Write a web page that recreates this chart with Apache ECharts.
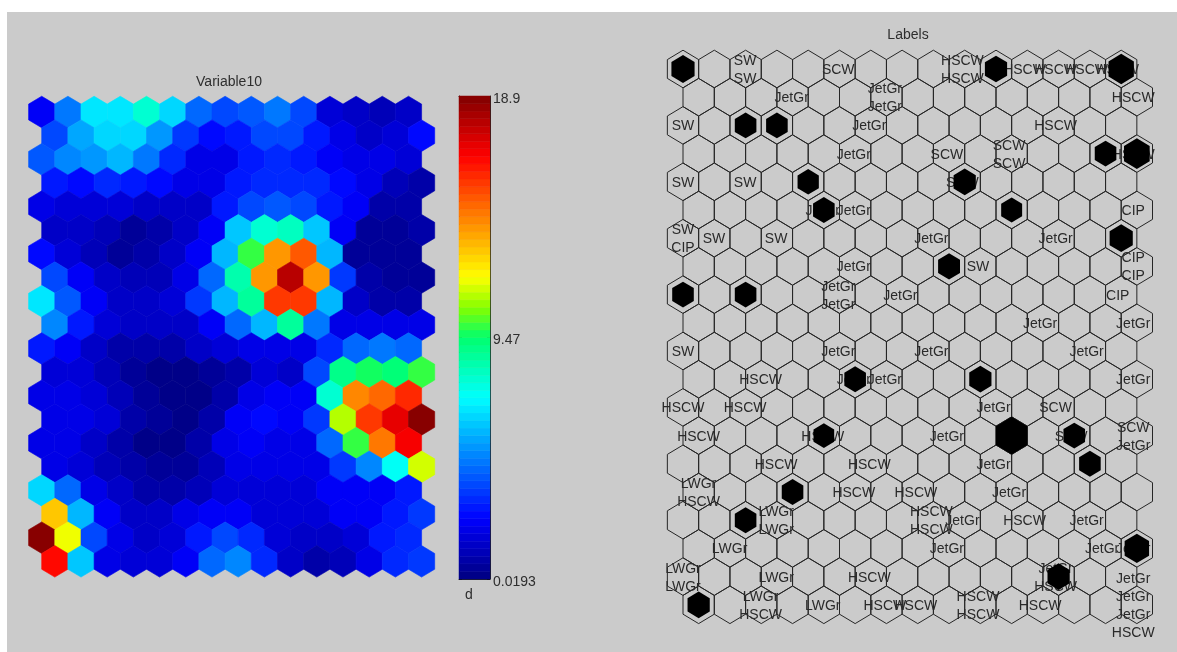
<!DOCTYPE html>
<html><head><meta charset="utf-8">
<style>html,body{margin:0;padding:0;background:#fff}#c{width:1177px;height:652px;filter:blur(.35px)}</style>
<script src="https://cdn.jsdelivr.net/npm/echarts@6/dist/echarts.min.js"></script>
</head><body><div id="c"></div>
<script>
const valueMin = 0.0193, valueMid = 9.47, valueMax = 18.9;
const gridCols = 15, gridRows = 20;
const variable10 = [
 [2.2,4.5,6.6,6.7,7.8,6.4,4.4,3.6,4.1,4.7,3.6,1.7,1.2,1.1,1.2],
 [3.8,5.4,6.4,6.4,5.2,3.4,2.6,2.8,3.7,3.7,2.7,1.8,1.4,1.5,2.4],
 [4.1,5.0,5.3,5.7,4.6,3.1,2.0,1.9,2.9,3.0,2.7,2.1,1.8,1.8,1.7],
 [2.7,2.6,3.1,2.9,2.5,2.0,1.9,2.7,3.1,3.2,3.1,2.5,2.0,1.0,0.8],
 [1.8,1.5,1.7,1.7,1.2,1.3,1.4,2.7,3.7,3.9,3.7,2.9,2.2,0.9,0.8],
 [1.4,1.3,1.1,0.6,0.8,1.2,2.3,6.0,7.9,8.0,6.1,2.1,0.6,0.6,0.7],
 [2.4,1.7,1.0,0.4,0.7,1.2,2.2,5.8,9.8,13.6,14.8,5.9,0.5,0.5,0.6],
 [3.8,2.2,1.2,1.0,1.1,2.0,4.4,8.3,13.8,17.9,13.8,3.4,0.7,0.6,0.6],
 [6.6,4.1,2.2,1.3,1.2,1.7,3.5,5.7,8.8,15.6,15.6,5.8,1.4,0.8,0.7],
 [5.0,2.9,1.6,1.3,1.2,1.4,2.2,4.2,5.7,8.8,4.7,1.9,1.9,2.0,1.8],
 [2.9,2.2,1.4,0.9,0.7,0.7,1.2,1.7,1.9,1.9,2.0,3.1,4.4,4.6,4.3],
 [1.7,1.5,1.0,0.5,0.3,0.3,0.5,0.9,1.5,1.4,3.7,9.1,9.6,9.3,9.8],
 [1.9,1.8,1.5,1.0,0.5,0.3,0.3,0.7,2.0,2.2,2.2,7.9,13.9,14.6,15.7],
 [1.9,1.9,1.5,0.7,0.4,0.3,0.7,2.1,2.6,2.2,3.3,11.2,15.4,17.0,18.9],
 [2.0,1.9,1.3,0.7,0.3,0.3,0.7,1.8,2.3,2.0,2.0,4.4,10.0,14.2,16.8],
 [1.8,1.6,1.1,0.7,0.4,0.4,1.0,1.8,1.9,1.8,2.0,3.4,5.0,7.1,11.3],
 [6.5,4.2,1.9,1.2,0.9,0.7,1.1,1.7,1.6,1.6,1.6,2.3,2.3,2.3,2.9],
 [12.8,5.9,2.1,1.4,1.4,2.0,2.3,2.1,1.6,1.5,1.7,2.2,2.3,2.9,3.3],
 [18.9,11.8,3.6,1.8,1.3,1.6,2.7,3.6,3.1,1.6,1.2,1.2,1.7,2.7,3.1],
 [16.5,6.2,2.0,1.6,1.5,2.2,4.2,5.0,3.1,1.4,0.9,1.0,1.9,3.2,3.4]
];
// row, col, stacked labels
const cellLabels = [
 [0,2,['SW','SW']],[0,5,['SCW']],[0,9,['HSCW','HSCW']],[0,11,['HSCW']],[0,12,['HSCW']],[0,13,['HSCW']],[0,14,['HSCW']],
 [1,3,['JetGr']],[1,6,['JetGr','JetGr']],[1,14,['HSCW']],
 [2,0,['SW']],[2,6,['JetGr']],[2,12,['HSCW']],
 [3,5,['JetGr']],[3,8,['SCW']],[3,10,['SCW','SCW']],[3,14,['HSCW']],
 [4,0,['SW']],[4,2,['SW']],[4,9,['SCW']],
 [5,4,['JetGr']],[5,5,['JetGr']],[5,14,['CIP']],
 [6,0,['SW','CIP']],[6,1,['SW']],[6,3,['SW']],[6,8,['JetGr']],[6,12,['JetGr']],
 [7,5,['JetGr']],[7,9,['SW']],[7,14,['CIP','CIP']],
 [8,5,['JetGr','JetGr']],[8,7,['JetGr']],[8,14,['CIP']],
 [9,11,['JetGr']],[9,14,['JetGr']],
 [10,0,['SW']],[10,5,['JetGr']],[10,8,['JetGr']],[10,13,['JetGr']],
 [11,2,['HSCW']],[11,5,['JetGr']],[11,6,['JetGr']],[11,14,['JetGr']],
 [12,0,['HSCW']],[12,2,['HSCW']],[12,10,['JetGr']],[12,12,['SCW']],
 [13,0,['HSCW']],[13,4,['HSCW']],[13,8,['JetGr']],[13,12,['SCW']],[13,14,['SCW','JetGr']],
 [14,3,['HSCW']],[14,6,['HSCW']],[14,10,['JetGr']],
 [15,0,['LWGr','HSCW']],[15,5,['HSCW']],[15,7,['HSCW']],[15,10,['JetGr']],
 [16,3,['LWGr','LWGr']],[16,8,['HSCW','HSCW']],[16,9,['JetGr']],[16,11,['HSCW']],[16,13,['JetGr']],
 [17,1,['LWGr']],[17,8,['JetGr']],[17,13,['JetGr']],[17,14,['JetGr']],
 [18,0,['LWGr','LWGr']],[18,3,['LWGr']],[18,6,['HSCW']],[18,12,['JetGr','HSCW']],
 [19,2,['LWGr','HSCW']],[19,4,['LWGr']],[19,6,['HSCW']],[19,7,['HSCW']],[19,9,['HSCW','HSCW']],[19,11,['HSCW']],[19,14,['JetGr','JetGr','JetGr','HSCW']]
];
// row, col, relative marker size
const hitMarkers = [
 [0,0,.74],[0,10,.71],[0,14,.81],[2,2,.69],[2,3,.69],[3,13,.69],[3,14,.82],[4,4,.68],[4,9,.71],
 [5,4,.69],[5,10,.67],[6,14,.74],[7,8,.70],[8,0,.69],[8,2,.69],[11,5,.69],[11,9,.71],
 [13,4,.66],[13,10,1],[13,12,.69],[14,13,.69],[15,3,.69],[16,2,.69],[17,14,.78],[18,12,.71],[19,0,.71]
];
const colorStops = [[0,0,0,128],[.125,0,0,255],[.375,0,255,255],[.5,0,255,110],[.56,130,255,0],[.625,255,255,0],[.875,255,0,0],[1,128,0,0]];
const bandCount = 64;

function ramp(t){
  t = Math.max(0, Math.min(1, t));
  for (let i = 1; i < colorStops.length; i++) {
    const a = colorStops[i-1], b = colorStops[i];
    if (t <= b[0]) {
      const k = (t-a[0])/(b[0]-a[0]);
      return 'rgb(' + [1,2,3].map(j => Math.round(a[j]+(b[j]-a[j])*k)).join(',') + ')';
    }
  }
}
function colorOf(v){
  const band = Math.min(bandCount-1, Math.floor((v-valueMin)/(valueMax-valueMin)*bandCount));
  return ramp((band+.5)/bandCount);
}
function hexPoints(api, col, row, scale){
  const cx = col + (row % 2 ? .5 : 0), h = 2/3*scale, w = .5*scale;
  return [[0,-h],[w,-h/2],[w,h/2],[0,h],[-w,h/2],[-w,-h/2]].map(p => api.coord([cx+p[0], row+p[1]]));
}
const heatData = [];
variable10.forEach((r,ri) => r.forEach((v,ci) => heatData.push([ci,ri,v])));
const allCells = [];
for (let r = 0; r < gridRows; r++) for (let c = 0; c < gridCols; c++) allCells.push([c,r]);
const bands = [];
for (let i = 0; i < bandCount; i++) bands.push([valueMin+(valueMax-valueMin)*i/bandCount, valueMin+(valueMax-valueMin)*(i+1)/bandCount, (i+.5)/bandCount]);
const textData = [];
const lineStep = 0.64, textColumnScale = 0.992, textRowShift = 0.04;
cellLabels.forEach(([r,c,list]) => list.forEach((s,i) => textData.push([(c+(r%2?.5:0))*textColumnScale, r+textRowShift+(i-(list.length-1)/2)*lineStep, s])));

const hexAxisX = (g) => ({gridIndex:g,type:'value',min:-1,max:gridCols,show:false});
const hexAxisY = (g) => ({gridIndex:g,type:'value',min:-1,max:gridRows,inverse:true,show:false});
const frame = {lineStyle:{color:'#222',width:1}};
const titleFont = {fontFamily:'Liberation Sans',fontSize:14,fontWeight:'normal',color:'#2e2e2e'};
const option = {
  backgroundColor:'#ffffff',
  animation:false,
  graphic:[{type:'rect',z:-10,silent:true,shape:{x:7,y:12,width:1170,height:640},style:{fill:'#cbcbcb'}}],
  title:[
    {text:'Variable10',left:229,top:82,textAlign:'center',textVerticalAlign:'middle',padding:0,textStyle:titleFont},
    {text:'Labels',left:908,top:35.5,textAlign:'center',textVerticalAlign:'middle',padding:0,textStyle:titleFont},
    {text:'d',left:469,top:595,textAlign:'center',textVerticalAlign:'middle',padding:0,textStyle:titleFont}
  ],
  grid:[
    {left:15.5,top:88.35,width:419.2,height:496.65},
    {left:651.7,top:40.8,width:500.8,height:592.2},
    {left:459,top:96,width:31,height:483}
  ],
  xAxis:[hexAxisX(0),hexAxisX(1),
    {gridIndex:2,type:'value',min:0,max:1,position:'bottom',axisLine:{show:true,onZero:false,...frame},axisTick:{show:false},axisLabel:{show:false},splitLine:{show:false}},
    {gridIndex:2,type:'value',min:0,max:1,position:'top',axisLine:{show:true,onZero:false,...frame},axisTick:{show:false},axisLabel:{show:false},splitLine:{show:false}}],
  yAxis:[hexAxisY(0),hexAxisY(1),
    {gridIndex:2,type:'value',min:valueMin,max:valueMax,position:'right',
      axisLine:{show:true,onZero:false,...frame},
      axisTick:{show:true,inside:true,length:3,lineStyle:{color:'#111'},customValues:[valueMin,valueMid,valueMax]},
      axisLabel:{show:true,margin:3,customValues:[valueMin,valueMid,valueMax],
        formatter:v=>'{t|'+v+'}',
        rich:{t:{fontFamily:'Liberation Sans',fontSize:14,color:'#2e2e2e',padding:[6,0,0,0]}}},
      splitLine:{show:false}},
    {gridIndex:2,type:'value',min:valueMin,max:valueMax,position:'left',
      axisLine:{show:true,onZero:false,...frame},
      axisTick:{show:true,inside:true,length:3,lineStyle:{color:'#111'},customValues:[valueMin,valueMid,valueMax]},
      axisLabel:{show:false},splitLine:{show:false}}],
  series:[
    {type:'custom',xAxisIndex:0,yAxisIndex:0,coordinateSystem:'cartesian2d',clip:false,data:heatData,
      renderItem:(p,api)=>{const c=colorOf(api.value(2));
        return {type:'polygon',shape:{points:hexPoints(api,api.value(0),api.value(1),1)},style:{fill:c,stroke:c,lineWidth:.6}};}},
    {type:'custom',xAxisIndex:1,yAxisIndex:1,coordinateSystem:'cartesian2d',clip:false,data:allCells,z:2,
      renderItem:(p,api)=>({type:'polygon',shape:{points:hexPoints(api,api.value(0),api.value(1),1)},style:{fill:'none',stroke:'#262626',lineWidth:1}})},
    {type:'custom',xAxisIndex:1,yAxisIndex:1,coordinateSystem:'cartesian2d',clip:false,data:textData,z:3,
      encode:{x:0,y:1},
      renderItem:(p,api)=>{const q=api.coord([api.value(0),api.value(1)]);
        return {type:'text',style:{x:q[0],y:q[1],text:textData[p.dataIndex][2],align:'center',verticalAlign:'middle',fill:'#2a2a2a',font:'14px "Liberation Sans"'}};}},
    {type:'custom',xAxisIndex:1,yAxisIndex:1,coordinateSystem:'cartesian2d',clip:false,z:4,
      data:hitMarkers.map(m=>[m[1],m[0],m[2]]),
      renderItem:(p,api)=>({type:'polygon',shape:{points:hexPoints(api,api.value(0),api.value(1),api.value(2))},style:{fill:'#000'}})},
    {type:'custom',xAxisIndex:2,yAxisIndex:2,coordinateSystem:'cartesian2d',clip:false,data:bands,z:1,
      encode:{y:[0,1]},
      renderItem:(p,api)=>{const a=api.coord([0,api.value(0)]),b=api.coord([1,api.value(1)]);const c=ramp(api.value(2));
        return {type:'rect',shape:{x:a[0],y:b[1],width:b[0]-a[0],height:a[1]-b[1]},style:{fill:c,stroke:c,lineWidth:.5}};}}
  ]
};
const chart = echarts.init(document.getElementById('c'),null,{renderer:'canvas'});
chart.setOption(option);
</script></body></html>
